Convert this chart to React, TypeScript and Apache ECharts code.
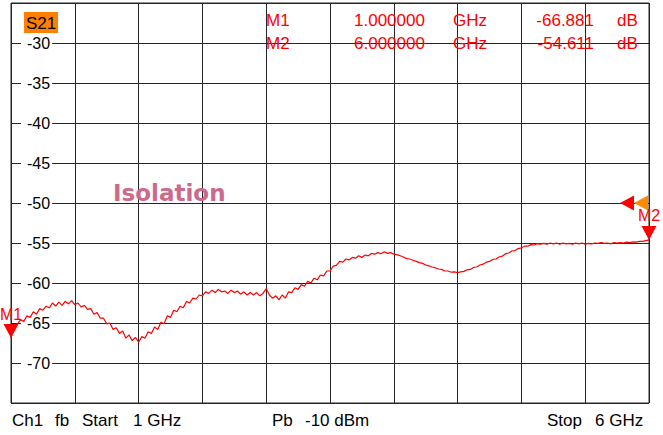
import React, { useEffect, useRef } from "react";
import * as echarts from "echarts";

// Sweep definition
const START_GHZ = 1;
const STOP_GHZ = 6;

// S21 trace (dB), 201 points from Start to Stop
const traceDb: number[] = [
  -66.88, -65.4, -65.1, -64.6, -64.8, -64.1, -64.3, -63.6, -63.9, -63.2,
  -63.4, -62.9, -63.1, -62.5, -62.9, -62.4, -62.8, -62.3, -62.6, -62.2,
  -62.7, -62.5, -63.0, -62.8, -63.3, -63.2, -63.9, -63.7, -64.4, -64.4,
  -65.1, -65.0, -65.8, -65.6, -66.3, -66.0, -66.9, -66.5, -67.2, -66.8,
  -67.4, -66.7, -66.9, -66.1, -66.3, -65.5, -65.8, -64.9, -65.1, -64.1,
  -64.3, -63.4, -63.6, -62.9, -63.1, -62.3, -62.5, -61.9, -62.0, -61.5,
  -61.6, -61.1, -61.3, -60.9, -61.2, -60.8, -61.1, -61.0, -61.3, -60.9,
  -61.2, -61.0, -61.4, -61.1, -61.5, -61.2, -61.5, -61.2, -61.6, -61.3,
  -60.7, -61.5, -61.9, -61.6, -62.1, -61.5, -61.9, -61.1, -61.2, -60.6,
  -60.8, -60.2, -60.4, -59.8, -60.0, -59.4, -59.6, -59.0, -59.1, -58.5,
  -58.5, -57.9, -57.8, -57.3, -57.4, -57.0, -57.1, -56.8, -56.9, -56.6,
  -56.8, -56.5, -56.6, -56.3, -56.4, -56.2, -56.35, -56.1, -56.3, -56.2,
  -56.4, -56.45, -56.6, -56.75, -56.95, -57.0, -57.15, -57.3, -57.45, -57.55,
  -57.75, -57.85, -58.0, -58.1, -58.25, -58.3, -58.5, -58.5, -58.65, -58.6,
  -58.7, -58.6, -58.55, -58.35, -58.3, -58.05, -58.0, -57.75, -57.65, -57.4,
  -57.3, -57.05, -57.0, -56.75, -56.65, -56.35, -56.25, -56.0, -55.95, -55.7,
  -55.6, -55.4, -55.4, -55.2, -55.25, -55.1, -55.15, -55.05, -55.15, -55.0,
  -55.1, -55.0, -55.15, -55.0, -55.1, -55.05, -55.15, -55.0, -55.1, -55.0,
  -55.15, -55.05, -55.1, -55.0, -55.05, -54.95, -55.05, -55.0, -55.1, -54.95,
  -55.0, -54.95, -55.0, -54.9, -54.95, -54.85, -54.9, -54.8, -54.8, -54.7,
  -54.61,
];

// Markers
const markerNames = ["M1", "M2"];
const markerFreqGhz = [1.0, 6.0];
const markerDb = [-66.881, -54.611];
const markerFreqText = ["1.000000", "6.000000"];
const markerDbText = ["-66.881", "-54.611"];

// Reference level
const refLevelDb = -50;

// Y axis scale
const Y_MIN = -75;
const Y_MAX = -25;
const Y_STEP = 5;
const X_STEP = 0.5;

const FONT = "'Liberation Sans', Arial, sans-serif";
const RED = "#ff0000";
const GRID = "#262626";

export default function App() {
  const ref = useRef<HTMLDivElement>(null);

  useEffect(() => {
    document.body.style.margin = "0";
    if (!ref.current) return;
    const chart = echarts.init(ref.current, undefined, { renderer: "svg" });

    const n = traceDb.length;
    const data = traceDb.map((v, i) => [
      START_GHZ + (i * (STOP_GHZ - START_GHZ)) / (n - 1),
      v,
    ]);

    const readoutTexts: any[] = [];
    markerNames.forEach((name, i) => {
      const y = 20 + i * 23;
      const base = { fill: RED, fontSize: 17, fontFamily: FONT, verticalAlign: "middle" };
      readoutTexts.push(
        { type: "text", x: 266, y, z: 10, style: { ...base, text: name, align: "left" } },
        { type: "text", x: 354, y, z: 10, style: { ...base, text: markerFreqText[i], align: "left" } },
        { type: "text", x: 453, y, z: 10, style: { ...base, text: "GHz", align: "left" } },
        { type: "text", x: 594, y, z: 10, style: { ...base, text: markerDbText[i], align: "right" } },
        { type: "text", x: 617, y, z: 10, style: { ...base, text: "dB", align: "left" } }
      );
    });

    const bottomBase = { fill: "#000", fontSize: 17, fontFamily: FONT, verticalAlign: "middle", align: "left" };
    const bottomWords: [string, number][] = [
      ["Ch1", 12],
      ["fb", 55],
      ["Start", 82],
      ["1 GHz", 133],
      ["Pb", 272],
      ["-10 dBm", 305],
      ["Stop", 547],
      ["6 GHz", 595],
    ];

    const option: any = {
      animation: false,
      backgroundColor: "#ffffff",
      grid: {
        left: 11,
        top: 3,
        width: 638,
        height: 400,
        show: true,
        borderColor: GRID,
        borderWidth: 1,
        backgroundColor: "transparent",
      },
      xAxis: {
        type: "value",
        min: START_GHZ,
        max: STOP_GHZ,
        interval: X_STEP,
        axisLine: { show: false },
        axisTick: { show: false },
        axisLabel: { show: false },
        splitLine: { show: true, lineStyle: { color: GRID, width: 1 } },
      },
      yAxis: {
        type: "value",
        min: Y_MIN,
        max: Y_MAX,
        interval: Y_STEP,
        axisLine: { show: false },
        axisTick: { show: false },
        splitLine: { show: true, lineStyle: { color: GRID, width: 1 } },
        axisLabel: {
          inside: true,
          margin: 10,
          showMinLabel: false,
          showMaxLabel: false,
          color: "#000",
          fontSize: 16,
          fontFamily: FONT,
          backgroundColor: "#ffffff",
          padding: [1, 2, 1, 6],
        },
      },
      series: [
        {
          type: "line",
          data,
          showSymbol: false,
          symbol: "none",
          clip: false,
          lineStyle: { color: RED, width: 1.2 },
          markPoint: {
            silent: true,
            data: [
              ...markerNames.map((name, i) => ({
                name,
                coord: [markerFreqGhz[i], markerDb[i]],
                symbol: "triangle",
                symbolRotate: 180,
                symbolSize: [15, 14],
                symbolOffset: [0, -7],
                itemStyle: { color: RED },
                label: {
                  show: true,
                  formatter: name,
                  position: "top",
                  distance: 2,
                  color: RED,
                  fontSize: 16,
                  fontFamily: FONT,
                },
              })),
              {
                name: "refOrange",
                coord: [STOP_GHZ, refLevelDb],
                symbol: "triangle",
                symbolRotate: 90,
                symbolSize: [15, 14],
                symbolOffset: [-8, 0],
                itemStyle: { color: "#ff8c00" },
                label: { show: false },
              },
              {
                name: "refRed",
                coord: [STOP_GHZ, refLevelDb],
                symbol: "triangle",
                symbolRotate: 90,
                symbolSize: [15, 14],
                symbolOffset: [-22, 0],
                itemStyle: { color: RED },
                label: { show: false },
              },
            ],
          },
        },
      ],
      graphic: [
        { type: "rect", shape: { x: 24, y: 12, width: 34, height: 21 }, z: 10, style: { fill: "#ff8000" } },
        {
          type: "text",
          x: 41,
          y: 23,
          z: 11,
          style: { text: "S21", fill: "#000", fontSize: 17, fontFamily: FONT, align: "center", verticalAlign: "middle" },
        },
        {
          type: "text",
          x: 113,
          y: 193,
          z: 10,
          style: {
            text: "Isolation",
            fill: "#cc6a8c",
            fontSize: 23,
            fontWeight: "bold",
            fontFamily: "'DejaVu Sans', sans-serif",
            align: "left",
            verticalAlign: "middle",
          },
        },
        ...readoutTexts,
        ...bottomWords.map(([t, x]) => ({
          type: "text",
          x,
          y: 420,
          z: 10,
          style: { ...bottomBase, text: t },
        })),
      ],
    };

    chart.setOption(option);
    return () => chart.dispose();
  }, []);

  return <div ref={ref} style={{ width: 663, height: 435 }} />;
}
